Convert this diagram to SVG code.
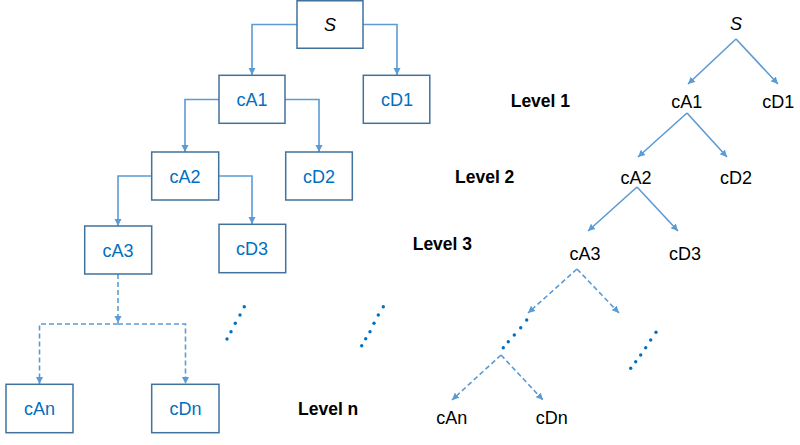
<svg xmlns="http://www.w3.org/2000/svg" width="800" height="445" viewBox="0 0 800 445">
<defs>
<marker id="arr" markerUnits="userSpaceOnUse" markerWidth="8" markerHeight="8" refX="7" refY="4" orient="auto">
<path d="M0,0.5 L7,4 L0,7.5 z" fill="#5B9BD5"/>
</marker>
<style>
.box{fill:#fff;stroke:#41719C;stroke-width:1.5}
.bt{font-family:"Liberation Sans",Arial,sans-serif;font-size:18px;fill:#0070C0;text-anchor:middle}
.t{font-family:"Liberation Sans",Arial,sans-serif;font-size:18px;fill:#000;text-anchor:middle}
.it{font-style:italic}
.lvl{font-family:"Liberation Sans",Arial,sans-serif;font-size:17.5px;font-weight:bold;fill:#000}
.c{fill:none;stroke:#5B9BD5;stroke-width:1.6;marker-end:url(#arr)}
.d{stroke-dasharray:5,3}
.dot{fill:#0070C0}
</style>
</defs>
<rect width="800" height="445" fill="#fff"/>
<g id="connectors">
<path class="c" d="M297,24.5 H252 V75"/>
<path class="c" d="M363,24.5 H397 V75"/>
<path class="c" d="M219,99.5 H185 V152"/>
<path class="c" d="M285,99.5 H319 V152"/>
<path class="c" d="M152,176 H118 V226"/>
<path class="c" d="M219,176 H252 V224"/>
<path class="c d" d="M118,274 V323"/>
<path class="c d" d="M118,324 H39.5 V384"/>
<path class="c d" d="M118,324 H185.5 V384"/>
<path class="c" d="M736,39 L688,84"/>
<path class="c" d="M736,39 L778,84"/>
<path class="c" d="M687,113 L638,157"/>
<path class="c" d="M687,113 L727,157"/>
<path class="c" d="M637,187 L588,231"/>
<path class="c" d="M637,187 L678,231"/>
<path class="c d" d="M577,269 L528,313"/>
<path class="c d" d="M577,269 L619,313"/>
<path class="c d" d="M501,355 L452,400"/>
<path class="c d" d="M501,355 L543,400"/>
</g>
<g id="dots1" class="dot">
<circle cx="244.3" cy="306.7" r="1.7"/><circle cx="240" cy="315" r="1.7"/><circle cx="235.3" cy="323.3" r="1.7"/><circle cx="231" cy="331.7" r="1.7"/><circle cx="227" cy="339" r="1.7"/>
</g>
<g id="dots2" class="dot">
<circle cx="383.3" cy="306.7" r="1.7"/><circle cx="378.3" cy="315" r="1.7"/><circle cx="374" cy="323.3" r="1.7"/><circle cx="370" cy="331.7" r="1.7"/><circle cx="365.7" cy="338.7" r="1.7"/><circle cx="361.7" cy="345.7" r="1.7"/>
</g>
<g id="dots3" class="dot">
<circle cx="526.7" cy="320" r="1.7"/><circle cx="520.7" cy="327.7" r="1.7"/><circle cx="514.3" cy="335" r="1.7"/><circle cx="508.3" cy="341.7" r="1.7"/><circle cx="503.3" cy="347.7" r="1.7"/>
</g>
<g id="dots4" class="dot">
<circle cx="656" cy="332.3" r="1.7"/><circle cx="650.7" cy="340" r="1.7"/><circle cx="645.7" cy="347.7" r="1.7"/><circle cx="640.7" cy="355" r="1.7"/><circle cx="635.7" cy="361.7" r="1.7"/><circle cx="630.7" cy="368.3" r="1.7"/>
</g>
<g id="S"><rect class="box" x="297" y="0.75" width="66" height="47.5"/><text class="t it" x="330" y="31">S</text></g>
<g id="cA1"><rect class="box" x="219" y="75.3" width="66" height="48"/><text class="bt" x="252" y="106">cA1</text></g>
<g id="cD1"><rect class="box" x="363.3" y="75.3" width="66.5" height="48"/><text class="bt" x="397" y="106">cD1</text></g>
<g id="cA2"><rect class="box" x="151.7" y="152" width="67" height="48"/><text class="bt" x="185" y="183">cA2</text></g>
<g id="cD2"><rect class="box" x="285.7" y="152" width="66.6" height="48"/><text class="bt" x="319" y="183">cD2</text></g>
<g id="cA3"><rect class="box" x="84.7" y="226" width="67" height="48"/><text class="bt" x="118" y="257">cA3</text></g>
<g id="cD3"><rect class="box" x="219" y="224.3" width="66.7" height="48.4"/><text class="bt" x="252" y="255">cD3</text></g>
<g id="cAn"><rect class="box" x="6" y="384.3" width="67" height="48.4"/><text class="bt" x="39.5" y="415">cAn</text></g>
<g id="cDn"><rect class="box" x="151.7" y="384.3" width="67.3" height="48.4"/><text class="bt" x="185.5" y="415">cDn</text></g>
<g id="levels">
<text class="lvl" x="298" y="415">Level n</text>
<text class="lvl" x="510.7" y="106.7">Level 1</text>
<text class="lvl" x="455" y="182.7">Level 2</text>
<text class="lvl" x="412.7" y="250">Level 3</text>
</g>
<g id="rS"><text class="t it" x="736" y="30">S</text></g>
<g id="rcA1"><text class="t" x="686.7" y="108">cA1</text></g>
<g id="rcD1"><text class="t" x="778.3" y="108">cD1</text></g>
<g id="rcA2"><text class="t" x="636" y="184">cA2</text></g>
<g id="rcD2"><text class="t" x="736" y="184">cD2</text></g>
<g id="rcA3"><text class="t" x="585" y="260">cA3</text></g>
<g id="rcD3"><text class="t" x="685" y="260">cD3</text></g>
<g id="rcAn"><text class="t" x="451.7" y="424">cAn</text></g>
<g id="rcDn"><text class="t" x="551.7" y="424">cDn</text></g>
</svg>
